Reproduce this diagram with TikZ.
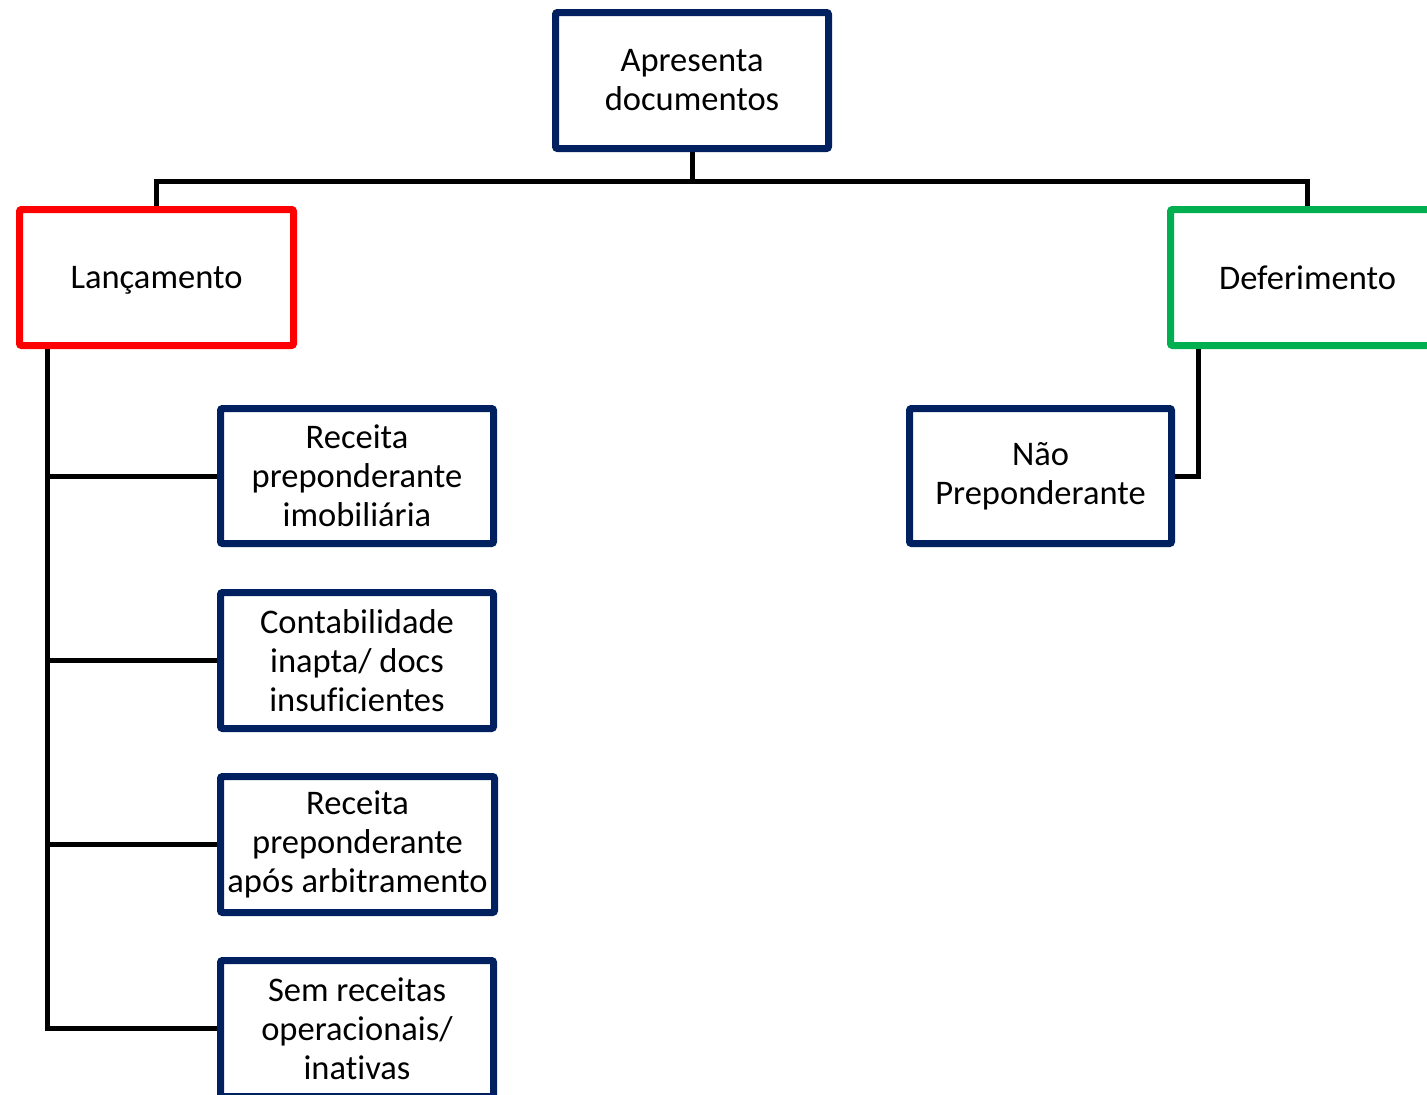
\documentclass[tikz,border=0pt]{standalone}
\usepackage{fontspec}
\setmainfont{Carlito}[Ligatures=NoCommon]
\definecolor{navy}{HTML}{002060}
\definecolor{redb}{HTML}{FF0000}
\definecolor{greenb}{HTML}{00B050}
\begin{document}
\begin{tikzpicture}[x=1pt,y=1pt,
  box/.style={draw=navy, line width=7pt, rounded corners=2pt, fill=white,
    minimum width=273pt, minimum height=136pt, align=center, inner sep=0pt,
    font=\fontsize{34.5}{39}\selectfont},
  conn/.style={line width=5pt, draw=black}]
\useasboundingbox (0,0) rectangle (1427,-1095);
\clip (0,0) rectangle (1427,-1095);
\coordinate (bus) at (692,-181);
\coordinate (lv) at (47,-1027);
\coordinate (rv) at (1198,-476);
\node[box, minimum width=273pt, minimum height=136pt] (top) at (692,-80.5) {Apresenta\\documentos};
\node[box, draw=redb, minimum width=274pt, text depth=0pt] (lanc) at (156.5,-277.5) {Lançamento};
\node[box, draw=greenb, minimum width=274pt] (defer) at (1307.5,-277.5) {Deferimento};
\node[box, minimum width=273pt, minimum height=135pt] (b1) at (357,-476) {Receita\\preponderante\\imobiliária};
\node[box, minimum width=273pt, minimum height=136pt] (b2) at (357,-660.5) {Contabilidade\\inapta/ docs\\insuficientes};
\node[box, minimum width=274pt, minimum height=136pt] (b3) at (357.5,-844.5) {Receita\\preponderante\\após arbitramento};
\node[box, minimum width=273pt, minimum height=136pt] (b4) at (357,-1028.5) {Sem receitas\\operacionais/\\inativas};
\node[box, minimum width=262pt, minimum height=135pt] (np) at (1040.5,-476) {Não\\Preponderante};
\draw[conn] (top.south) -- (top.south |- bus);
\draw[conn] (lanc.north) -- (lanc.north |- bus) -- (defer.north |- bus) -- (defer.north);
\draw[conn] (lanc.south -| lv) -- (lv |- b4.west) -- (b4.west);
\draw[conn] (lv |- b1.west) -- (b1.west);
\draw[conn] (lv |- b2.west) -- (b2.west);
\draw[conn] (lv |- b3.west) -- (b3.west);
\draw[conn] (defer.south -| rv) -- (rv |- np.east) -- (np.east);
\end{tikzpicture}
\end{document}
